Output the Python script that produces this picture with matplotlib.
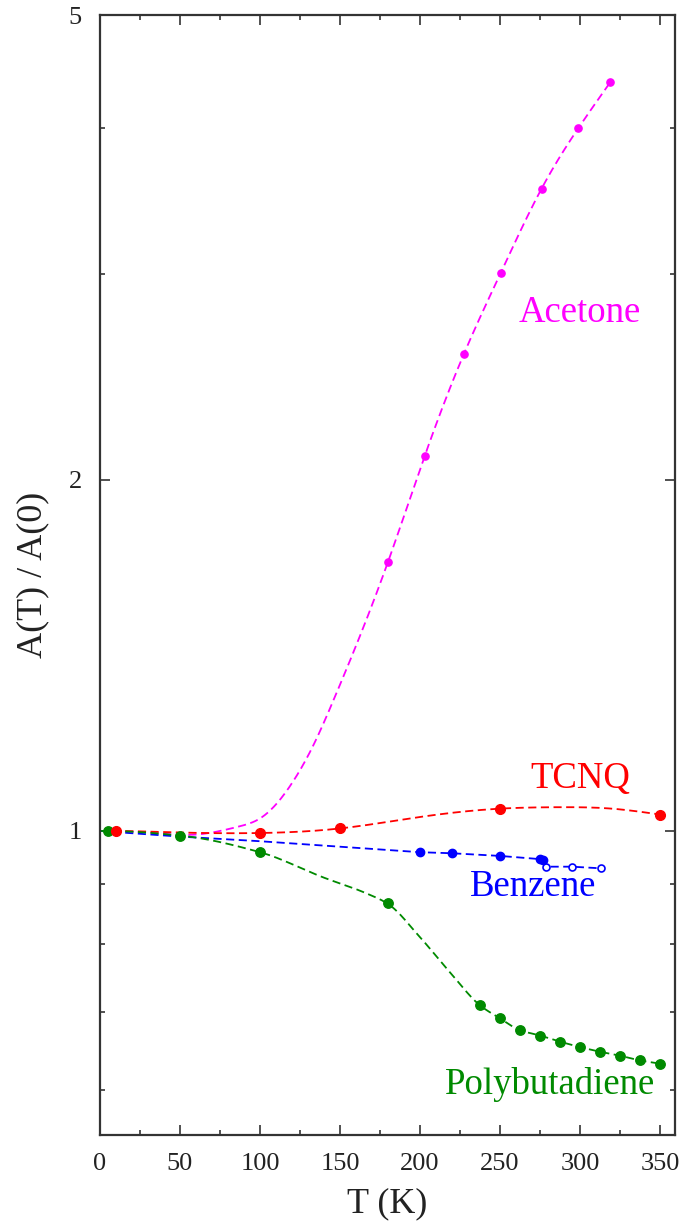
import numpy as np
import matplotlib
matplotlib.use("Agg")
import matplotlib.pyplot as plt
from matplotlib.ticker import FixedLocator, NullFormatter, FixedFormatter

# ---- data ----
acetone_T = [180, 203, 227.5, 250.5, 276, 299, 319]
acetone_A = [1.70, 2.096, 2.563, 3.007, 3.55, 4.00, 4.38]
acetone_curve_T = [0, 30, 60, 75, 87, 100, 120, 135, 146, 180, 203, 227.5, 250.5, 276, 299, 319]
acetone_curve_A = [1.0, 0.997, 0.993, 1.0, 1.009, 1.025, 1.099, 1.197, 1.295, 1.70, 2.096, 2.563, 3.007, 3.55, 4.00, 4.38]

tcnq_T = [10, 100, 150, 250, 350]
tcnq_A = [1.0, 0.996, 1.005, 1.045, 1.033]
tcnq_curve_T = [0, 10, 50, 100, 150, 200, 250, 285, 320, 350]
tcnq_curve_A = [1.0, 1.0, 0.997, 0.996, 1.005, 1.028, 1.045, 1.048, 1.045, 1.033]

benzene_T = [200, 220, 250, 275, 277]
benzene_A = [0.959, 0.957, 0.952, 0.946, 0.9445]
benzene_open_T = [279, 295, 313]
benzene_open_A = [0.932, 0.932, 0.929]
benzene_curve_T = [0, 50, 100, 200, 220, 250, 275, 279, 295, 313]
benzene_curve_A = [1.0, 0.989, 0.980, 0.959, 0.957, 0.952, 0.946, 0.932, 0.932, 0.929]

poly_T = [5, 50, 100, 180, 237.5, 250, 262.5, 275, 287.5, 300, 312.5, 325, 337.5, 350]
poly_A = [1.0, 0.991, 0.959, 0.867, 0.709, 0.691, 0.675, 0.668, 0.660, 0.653, 0.647, 0.642, 0.636, 0.632]
poly_curve_T = [0, 5, 50, 100, 140, 165, 180, 200, 219, 237.5, 250, 262.5, 275, 287.5, 300, 312.5, 325, 337.5, 350]
poly_curve_A = [1.0, 1.0, 0.991, 0.959, 0.912, 0.886, 0.866, 0.811, 0.756, 0.709, 0.691, 0.675, 0.668, 0.660, 0.653, 0.647, 0.642, 0.636, 0.632]

x_ticks = [0, 50, 100, 150, 200, 250, 300, 350]
x_minor = [25, 75, 125, 175, 225, 275, 325]
y_ticks = [1, 2, 5]
y_minor = [0.6, 0.7, 0.8, 0.9, 3, 4]


def smooth(xk, yk, n=500):
    """natural cubic spline through the knots, in log space"""
    x = np.asarray(xk, float)
    y = np.log10(np.asarray(yk, float))
    m = len(x)
    h = np.diff(x)
    A = np.zeros((m, m))
    b = np.zeros(m)
    A[0, 0] = A[-1, -1] = 1
    for i in range(1, m - 1):
        A[i, i - 1] = h[i - 1]
        A[i, i] = 2 * (h[i - 1] + h[i])
        A[i, i + 1] = h[i]
        b[i] = 3 * ((y[i + 1] - y[i]) / h[i] - (y[i] - y[i - 1]) / h[i - 1])
    c = np.linalg.solve(A, b)
    bc = (y[1:] - y[:-1]) / h - h * (2 * c[:-1] + c[1:]) / 3
    d = (c[1:] - c[:-1]) / (3 * h)
    xs = np.linspace(x[0], x[-1], n)
    idx = np.clip(np.searchsorted(x, xs) - 1, 0, m - 2)
    dx = xs - x[idx]
    ys = y[idx] + bc[idx] * dx + c[idx] * dx ** 2 + d[idx] * dx ** 3
    return xs, 10 ** ys


def pchip(xk, yk, n=500):
    """monotone piecewise cubic Hermite through the knots, in log space"""
    x = np.asarray(xk, float)
    y = np.log10(np.asarray(yk, float))
    h = np.diff(x)
    delta = np.diff(y) / h
    m = len(x)
    d = np.zeros(m)
    for k in range(1, m - 1):
        if delta[k - 1] * delta[k] <= 0:
            d[k] = 0.0
        else:
            w1 = 2 * h[k] + h[k - 1]
            w2 = h[k] + 2 * h[k - 1]
            d[k] = (w1 + w2) / (w1 / delta[k - 1] + w2 / delta[k])
    d[0] = delta[0]
    d[-1] = delta[-1]
    xs = np.linspace(x[0], x[-1], n)
    idx = np.clip(np.searchsorted(x, xs) - 1, 0, m - 2)
    t = (xs - x[idx]) / h[idx]
    hk = h[idx]
    h00 = 2 * t ** 3 - 3 * t ** 2 + 1
    h10 = t ** 3 - 2 * t ** 2 + t
    h01 = -2 * t ** 3 + 3 * t ** 2
    h11 = t ** 3 - t ** 2
    ys = h00 * y[idx] + h10 * hk * d[idx] + h01 * y[idx + 1] + h11 * hk * d[idx + 1]
    return xs, 10 ** ys


plt.rcParams['font.family'] = ['Liberation Serif', 'DejaVu Serif']

MAG = '#ff00ff'
RED = '#ff0000'
BLUE = '#0000ff'
GREEN = '#008a00'

fig = plt.figure(figsize=(6.84, 12.29), dpi=100)
ax = fig.add_axes([100 / 684, 1 - 1135 / 1229, 575 / 684, 1120 / 1229])
ax.set_yscale('log')

lw = 1.3
dash = (4.5, 2.5)

xs, ys = smooth(acetone_curve_T, acetone_curve_A)
ax.plot(xs, ys, color=MAG, lw=lw, dashes=dash)
xs, ys = smooth(tcnq_curve_T, tcnq_curve_A)
ax.plot(xs, ys, color=RED, lw=lw, dashes=dash)
ax.plot(benzene_curve_T, benzene_curve_A, color=BLUE, lw=lw, dashes=dash)
xs, ys = pchip(poly_curve_T, poly_curve_A)
ax.plot(xs, ys, color=GREEN, lw=lw, dashes=dash)

ax.plot(acetone_T, acetone_A, 'o', color=MAG, ms=5.2, ls='none')
ax.plot(benzene_T, benzene_A, 'o', color=BLUE, ms=6, ls='none')
ax.plot(benzene_open_T, benzene_open_A, 'o', mfc='white', mec=BLUE, mew=1.2, ms=5, ls='none')
ax.plot(poly_T, poly_A, 'o', color=GREEN, ms=6.8, ls='none')
ax.plot(tcnq_T, tcnq_A, 'o', color=RED, ms=7, ls='none')

ax.set_xlim(0, 359.4)
ax.set_ylim(0.549, 5.0)

ax.xaxis.set_major_locator(FixedLocator(x_ticks))
ax.xaxis.set_minor_locator(FixedLocator(x_minor))
ax.yaxis.set_major_locator(FixedLocator(y_ticks))
ax.yaxis.set_major_formatter(FixedFormatter([str(v) for v in y_ticks]))
ax.yaxis.set_minor_locator(FixedLocator(y_minor))
ax.yaxis.set_minor_formatter(NullFormatter())

ax.tick_params(which='both', direction='in', top=True, right=True, colors='#333333',
               labelcolor='#222222', labelsize=19)
ax.tick_params(which='major', length=7, width=1.2)
ax.tick_params(which='minor', length=3.5, width=1.2)
ax.tick_params(axis='x', which='major', pad=13)
ax.tick_params(axis='y', which='major', pad=13)
for s in ax.spines.values():
    s.set_linewidth(1.6)
    s.set_color('#333333')

ax.set_xlabel('T (K)', fontsize=26, color='#222222', labelpad=9)
ax.set_ylabel('A(T) / A(0)', fontsize=26, color='#222222', labelpad=14)

ax.text(580 / 684, 1 - 313 / 1229, 'Acetone', transform=fig.transFigure, color=MAG,
        fontsize=26.5, ha='center', va='center')
ax.text(580 / 684, 1 - 779 / 1229, 'TCNQ', transform=fig.transFigure, color=RED,
        fontsize=26.5, ha='center', va='center')
ax.text(533 / 684, 1 - 887 / 1229, 'Benzene', transform=fig.transFigure, color=BLUE,
        fontsize=26.5, ha='center', va='center')
ax.text(550 / 684, 1 - 1085 / 1229, 'Polybutadiene', transform=fig.transFigure, color=GREEN,
        fontsize=26.5, ha='center', va='center')

fig.savefig('out.png', dpi=100)
